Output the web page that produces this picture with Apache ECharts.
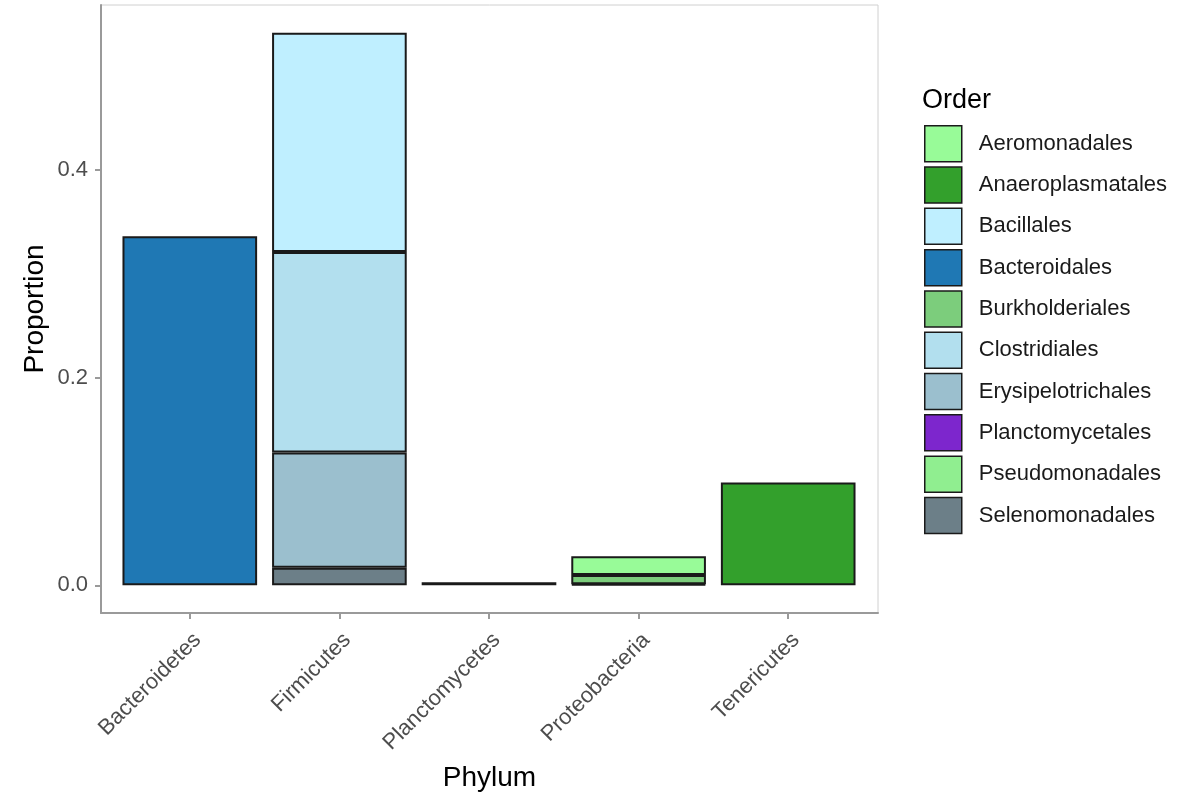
<!DOCTYPE html>
<html>
<head>
<meta charset="utf-8">
<script src="https://cdn.jsdelivr.net/npm/echarts@6/dist/echarts.min.js"></script>
<style>html,body{margin:0;padding:0;background:#fff;}#c{width:1183px;height:792px;}</style>
</head>
<body>
<div id="c"></div>
<script>
const phyla = ['Bacteroidetes', 'Firmicutes', 'Planctomycetes', 'Proteobacteria', 'Tenericutes'];
const orders = ['Aeromonadales', 'Anaeroplasmatales', 'Bacillales', 'Bacteroidales', 'Burkholderiales',
  'Clostridiales', 'Erysipelotrichales', 'Planctomycetales', 'Pseudomonadales', 'Selenomonadales'];
const orderColors = ['#98FB98', '#33A02C', '#BFEFFF', '#1F78B4', '#7CCD7C',
  '#B2DFEE', '#9BBFCE', '#7D26CD', '#90EE90', '#6C7F88'];
// proportion per order, by phylum (Bacteroidetes, Firmicutes, Planctomycetes, Proteobacteria, Tenericutes)
const Aeromonadales      = [null, null, null, 0.018, null];
const Anaeroplasmatales  = [null, null, null, null, 0.099];
const Bacillales         = [null, 0.211, null, null, null];
const Bacteroidales      = [0.336, null, null, null, null];
const Burkholderiales    = [null, null, null, 0.009, null];
const Clostridiales      = [null, 0.193, null, null, null];
const Erysipelotrichales = [null, 0.111, null, null, null];
const Planctomycetales   = [null, null, 0.003, null, null];
const Pseudomonadales    = [null, null, null, 0.001, null];
const Selenomonadales    = [null, 0.017, null, null, null];
const yTicks = [0, 0.2, 0.4];

const seriesData = {Aeromonadales, Anaeroplasmatales, Bacillales, Bacteroidales, Burkholderiales,
  Clostridiales, Erysipelotrichales, Planctomycetales, Pseudomonadales, Selenomonadales};

const series = [];
for (let i = orders.length - 1; i >= 0; i--) {
  const name = orders[i];
  series.push({
    name: name,
    type: 'bar',
    stack: 'total',
    xAxisIndex: 1,
    yAxisIndex: 1,
    barWidth: '90%',
    data: seriesData[name],
    itemStyle: {color: orderColors[i], borderColor: '#1a1a1a', borderWidth: 2},
    emphasis: {disabled: true},
    animation: false
  });
}

const chart = echarts.init(document.getElementById('c'), null, {renderer: 'canvas'});
const gray = '#4D4D4D';
const font = 'Liberation Sans, Arial, sans-serif';
chart.setOption({
  animation: false,
  textStyle: {fontFamily: font},
  title: {text: 'Order', left: 922, top: 87, padding: 0, textStyle: {fontSize: 27, fontWeight: 'normal', color: '#000', fontFamily: font}},
  legend: {
    data: orders,
    orient: 'vertical',
    left: 924,
    top: 125,
    padding: 0,
    icon: 'rect',
    itemWidth: 37,
    itemHeight: 36,
    itemGap: 3.8,
    itemStyle: {borderColor: '#1a1a1a', borderWidth: 1.5},
    textStyle: {fontSize: 22, color: '#1a1a1a', fontFamily: font, padding: [0, 0, 0, 12]},
    selectedMode: false
  },
  grid: [
    {left: 101, right: 305, top: 5, bottom: 179, show: true, borderColor: '#d0d0d0', borderWidth: 1,
     containLabel: false, outerBoundsMode: 'none'},
    {left: 115, right: 320, top: 5, bottom: 179, containLabel: false, outerBoundsMode: 'none'}
  ],
  xAxis: [
    {gridIndex: 0, type: 'value', min: 0, max: 1, axisLine: {show: true, onZero: false, lineStyle: {color: '#9a9a9a', width: 2}},
     axisTick: {show: false}, axisLabel: {show: false}, splitLine: {show: false},
     name: 'Phylum', nameLocation: 'middle', nameGap: 151, nameTextStyle: {fontSize: 28, color: '#000', fontFamily: font}},
    {gridIndex: 1, type: 'category', data: phyla,
     axisLine: {show: false, onZero: false}, axisTick: {show: true, alignWithLabel: true, length: 6, lineStyle: {color: '#9a9a9a', width: 2}},
     axisLabel: {rotate: 45, fontSize: 22, color: gray, margin: 16, interval: 0, fontFamily: font, align: 'right', verticalAlign: 'top'},
     splitLine: {show: false}}
  ],
  yAxis: [
    {gridIndex: 0, type: 'value', min: 0, max: 1, axisLine: {show: true, onZero: false, lineStyle: {color: '#9a9a9a', width: 2}},
     axisTick: {show: false}, axisLabel: {show: false}, splitLine: {show: false},
     name: 'Proportion', nameLocation: 'middle', nameRotate: 90, nameGap: 52, nameTextStyle: {fontSize: 28, color: '#000', fontFamily: font}},
    {gridIndex: 1, type: 'value', min: -0.0266, max: 0.5587, offset: 14,
     axisLine: {show: false, onZero: false},
     axisTick: {show: true, length: 6, customValues: yTicks, lineStyle: {color: '#9a9a9a', width: 2}},
     axisLabel: {fontSize: 22, color: gray, margin: 13, fontFamily: font, customValues: yTicks,
       formatter: v => v.toFixed(1)},
     splitLine: {show: false}}
  ],
  series: series
});
</script>
</body>
</html>
